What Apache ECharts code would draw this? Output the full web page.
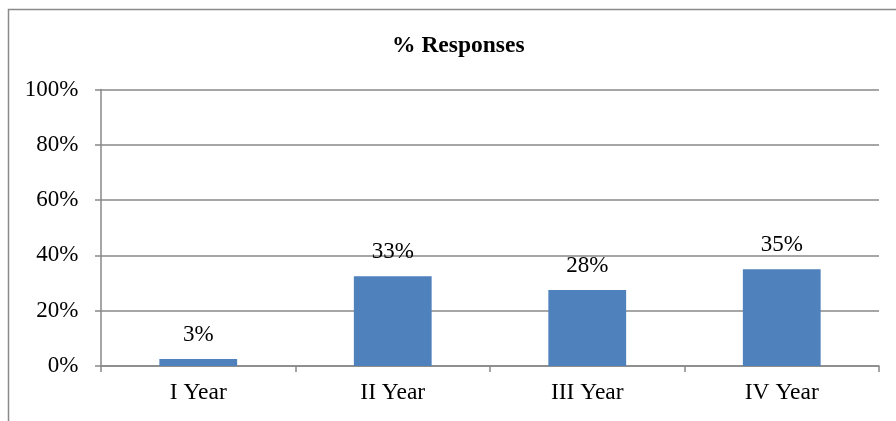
<!DOCTYPE html>
<html>
<head>
<meta charset="utf-8">
<script src="https://cdn.jsdelivr.net/npm/echarts@6/dist/echarts.min.js"></script>
<style>
html,body{margin:0;padding:0;background:#fff;}
#c{width:896px;height:421px;}
</style>
</head>
<body>
<div id="c"></div>
<script>
var categories = ['I Year', 'II Year', 'III Year', 'IV Year'];
var values = [2.5, 32.5, 27.5, 35];
var valueLabels = ['3%', '33%', '28%', '35%'];
var yTicks = [0, 20, 40, 60, 80, 100];

var chart = echarts.init(document.getElementById('c'), null, {renderer: 'canvas'});
var font = '"Liberation Serif", "Times New Roman", serif';
chart.setOption({
  animation: false,
  backgroundColor: '#fff',
  title: {
    text: '% Responses',
    left: 392,
    top: 34,
    padding: 0,
    textStyle: {fontFamily: font, fontWeight: 'bold', fontSize: 23.5, color: '#000'}
  },
  graphic: [{
    type: 'rect',
    shape: {x: 8.5, y: 9.5, width: 1000, height: 1000},
    style: {fill: 'none', stroke: '#8a8a8a', lineWidth: 1.5},
    silent: true
  }],
  grid: {left: 101, right: 17, top: 89.5, bottom: 55, containLabel: false},
  xAxis: {
    type: 'category',
    data: categories,
    axisLine: {lineStyle: {color: '#888', width: 1.5}},
    axisTick: {show: true, length: 6, lineStyle: {color: '#888', width: 1.5}, alignWithLabel: false},
    axisLabel: {fontFamily: font, fontSize: 23.5, color: '#000', margin: 15}
  },
  yAxis: {
    type: 'value',
    min: yTicks[0],
    max: yTicks[yTicks.length - 1],
    interval: 20,
    axisLine: {show: true, lineStyle: {color: '#888', width: 1.5}},
    axisTick: {show: true, length: 6, lineStyle: {color: '#888', width: 1.5}},
    splitLine: {lineStyle: {color: '#888', width: 1.5}},
    axisLabel: {fontFamily: font, fontSize: 23, color: '#000', margin: 22.5, formatter: '{value}%'}
  },
  series: [{
    type: 'bar',
    data: values,
    barWidth: '40%',
    itemStyle: {color: '#4F81BD'},
    label: {
      show: true,
      position: 'top',
      distance: 13,
      fontFamily: font,
      fontSize: 23,
      color: '#000',
      formatter: function (p) { return valueLabels[p.dataIndex]; }
    }
  }]
});
</script>
</body>
</html>
